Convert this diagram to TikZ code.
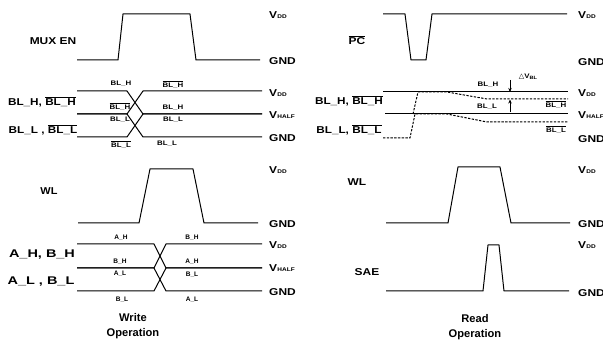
\documentclass[tikz,border=0pt]{standalone}
\usepackage{fontspec}
\usepackage{graphicx}
\setmainfont{Liberation Sans}
\newfontfamily\dejavu{DejaVu Sans}
\usetikzlibrary{arrows.meta}
\newcommand\sx[2]{\scalebox{#1}[1]{#2}}
\newcommand\ovl[1]{$\overline{\mbox{#1}}$}
\newcommand\vs[1]{\sx{1.2}{V\kern0.2pt\raisebox{-0.6pt}{\fontsize{4.6}{5}\selectfont #1}}}
\tikzset{
  sig/.style={line width=0.85pt, line join=round},
  dsh/.style={sig, dash pattern=on 2pt off 1.2pt},
  lbl/.style={font=\bfseries\fontsize{8.5}{10}\selectfont, inner sep=0pt},
  big/.style={font=\bfseries\fontsize{9.5}{11}\selectfont, inner sep=0pt},
  sml/.style={font=\bfseries\fontsize{5.6}{6.5}\selectfont, inner sep=0pt},
  lvl/.style={lbl, anchor=west},
  op/.style={font=\bfseries\fontsize{9.5}{12.8}\selectfont, align=center, inner sep=0pt},
  arr/.style={line width=0.7pt, -{Stealth[length=3.5pt,width=3pt]}}
}
\begin{document}
\begin{tikzpicture}[x=0.03cm, y=-0.03cm]
\useasboundingbox (0,0) rectangle (603,349);
%% ---------- WRITE ----------
% MUX EN
\node[lbl] (muxen) at (53,41) {\sx{1.2}{MUX EN}};
\draw[sig] (77,60) -- (118,60) -- (123,14) -- (190,14) -- (196,60) -- (260,60);
\node[lvl] (w1v) at (269,15) {\vs{DD}};
\node[lvl] (w1g) at (269,61) {\sx{1.2}{GND}};
% BL write
\draw[sig] (77,91) -- (127,91) -- (143,114) -- (262,114);
\draw[sig] (77,114) -- (127,114) -- (143,91) -- (262,91);
\draw[sig] (77,114) -- (127,114) -- (143,137) -- (262,137);
\draw[sig] (77,137) -- (127,137) -- (143,114) -- (262,114);
\node[lbl] (wbh) at (42,102) {\sx{1.18}{BL\_H, \ovl{BL\_H}}};
\node[lbl] (wbl) at (43,130) {\sx{1.18}{BL\_L , \ovl{BL\_L}}};
\node[sml] (s1) at (121,84) {\sx{1.2}{BL\_H}};
\node[sml] (s2) at (173,84) {\sx{1.2}{\ovl{BL\_H}}};
\node[sml] (s3) at (120,106) {\sx{1.2}{\ovl{BL\_H}}};
\node[sml] (s4) at (173,108) {\sx{1.2}{BL\_H}};
\node[sml] (s5) at (120,120) {\sx{1.2}{BL\_L}};
\node[sml] (s6) at (173,120) {\sx{1.2}{BL\_L}};
\node[sml] (s7) at (121,144) {\sx{1.2}{\ovl{BL\_L}}};
\node[sml] (s8) at (167,144) {\sx{1.2}{BL\_L}};
\node[lvl] (w2v) at (269,93) {\vs{DD}};
\node[lvl] (w2h) at (269,115) {\vs{HALF}};
\node[lvl] (w2g) at (269,138) {\sx{1.2}{GND}};
% WL write
\node[lbl] (wwl) at (49,191) {\sx{1.1}{WL}};
\draw[sig] (78,223) -- (139,223) -- (150,169) -- (193,169) -- (204,223) -- (258,223);
\node[lvl] (w3v) at (269,170) {\vs{DD}};
\node[lvl] (w3g) at (269,224) {\sx{1.2}{GND}};
% A/B
\draw[sig] (77,244) -- (154,244) -- (166,268) -- (262,268);
\draw[sig] (77,268) -- (154,268) -- (166,244) -- (262,244);
\draw[sig] (77,268) -- (154,268) -- (166,291) -- (262,291);
\draw[sig] (77,291) -- (154,291) -- (166,268) -- (262,268);
\node[big] (wab) at (42,255) {\sx{1.3}{A\_H, B\_H}};
\node[big] (wal) at (41,282) {\sx{1.3}{A\_L , B\_L}};
\node[sml] (a1) at (121,238) {A\_H};
\node[sml] (a2) at (192,238) {B\_H};
\node[sml] (a3) at (120,262) {B\_H};
\node[sml] (a4) at (192,262) {A\_H};
\node[sml] (a5) at (120,274) {A\_L};
\node[sml] (a6) at (192,275) {B\_L};
\node[sml] (a7) at (122,300) {B\_L};
\node[sml] (a8) at (192,300) {A\_L};
\node[lvl] (w4v) at (269,245) {\vs{DD}};
\node[lvl] (w4h) at (269,268) {\vs{HALF}};
\node[lvl] (w4g) at (269,292) {\sx{1.2}{GND}};
\node[op] (wop) at (133,326) {Write\\Operation};
%% ---------- READ ----------
% PC
\node[lbl] (rpc) at (357,40) {\sx{1.2}{\ovl{PC}}};
\draw[sig] (383,14) -- (405,14) -- (411,60) -- (426,60) -- (432,14) -- (567,14);
\node[lvl] (r1v) at (578,15) {\vs{DD}};
\node[lvl] (r1g) at (578,62) {\sx{1.2}{GND}};
% BL read
\draw[sig] (383,92) -- (568,92);
\draw[sig] (385,114) -- (568,114);
\draw[dsh] (383,138) -- (410,138) -- (415,114) -- (447,114) -- (487,122) -- (568,122);
\draw[dsh] (413,114) -- (418,92) -- (447,92) -- (487,99) -- (568,99);
\node[lbl] (rbh) at (349,101) {\sx{1.18}{BL\_H, \ovl{BL\_H}}};
\node[lbl] (rbl) at (349,130) {\sx{1.18}{BL\_L, \ovl{BL\_L}}};
\node[sml] (r1) at (488,85) {\sx{1.2}{BL\_H}};
\node[sml] (r2) at (487,107) {\sx{1.2}{BL\_L}};
\node[sml] (r3) at (556,104) {\sx{1.2}{\ovl{BL\_H}}};
\node[sml] (r4) at (556,129) {\sx{1.2}{\ovl{BL\_L}}};
\draw[arr] (510,80) -- (510,92);
\draw[arr] (510,112) -- (510,99.5);
\node[sml] (dv) at (528,77) {{\dejavu\mdseries\fontsize{6}{6}\selectfont △}\sx{1.2}{V\raisebox{-0.6pt}{\fontsize{4}{4}\selectfont BL}}};
\node[lvl] (r2v) at (578,93) {\vs{DD}};
\node[lvl] (r2h) at (578,115) {\vs{HALF}};
\node[lvl] (r2g) at (578,139) {\sx{1.2}{GND}};
% WL read
\node[lbl] (rwl) at (357,182) {\sx{1.2}{WL}};
\draw[sig] (386,223) -- (448,223) -- (458,167) -- (500,167) -- (511,223) -- (570,223);
\node[lvl] (r3v) at (578,170) {\vs{DD}};
\node[lvl] (r3g) at (578,224) {\sx{1.2}{GND}};
% SAE
\node[lbl] (rsae) at (367,272) {\sx{1.2}{SAE}};
\draw[sig] (386,291) -- (483,291) -- (488,245) -- (499,245) -- (504,291) -- (569,291);
\node[lvl] (r4v) at (578,245) {\vs{DD}};
\node[lvl] (r4g) at (578,293) {\sx{1.2}{GND}};
\node[op] (rop) at (475,327) {Read\\Operation};
\end{tikzpicture}
\end{document}
